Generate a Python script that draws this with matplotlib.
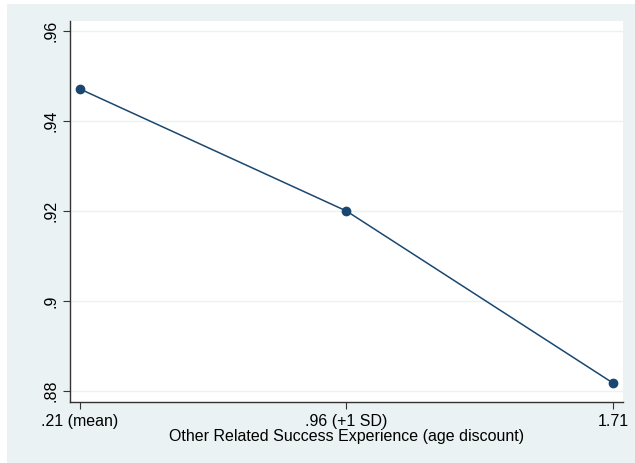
import matplotlib.pyplot as plt
from matplotlib.patches import Rectangle

# predicted values at three levels of the moderator
x_vals = [0.21, 0.96, 1.71]
x_labels = [".21 (mean)", ".96 (+1 SD)", "1.71"]
y_vals = [0.9471, 0.920, 0.8818]
y_ticks = [0.88, 0.90, 0.92, 0.94, 0.96]
y_labels = [".88", ".9", ".92", ".94", ".96"]

plt.rcParams['font.family'] = ['Liberation Sans', 'DejaVu Sans']

bg = '#eaf2f3'
navy = '#1a476f'

fig = plt.figure(figsize=(6.35, 4.63), dpi=100)
fig.patch.set_facecolor('white')
fig.patches.append(Rectangle((7/635, 0), 1, 1 - 4/463, transform=fig.transFigure,
                             facecolor=bg, edgecolor='none', zorder=-10))

ax = fig.add_axes([70/635, 61/463, 553/635, 381/463])
ax.set_facecolor('white')

ax.plot(x_vals, y_vals, color=navy, lw=1.1, marker='o', markersize=6, zorder=3)

ax.set_xlim(0.182, 1.738)
ax.set_ylim(0.8776, 0.9622)
ax.set_xticks(x_vals)
ax.set_xticklabels(x_labels, fontsize=11.5)
ax.set_yticks(y_ticks)
ax.set_yticklabels(y_labels, fontsize=11.5, rotation=90, va='center')

for t in y_ticks:
    ax.axhline(t, color=bg, lw=1, zorder=1)

for s in ['top', 'right']:
    ax.spines[s].set_visible(False)
for s in ['left', 'bottom']:
    ax.spines[s].set_color('#333333')
    ax.spines[s].set_linewidth(1)
ax.tick_params(direction='out', length=5, color='#333333', labelcolor='black')

ax.set_xlabel("Other Related Success Experience (age discount)", fontsize=11.5, labelpad=0)

fig.savefig('out.png', dpi=100, facecolor=fig.get_facecolor())
